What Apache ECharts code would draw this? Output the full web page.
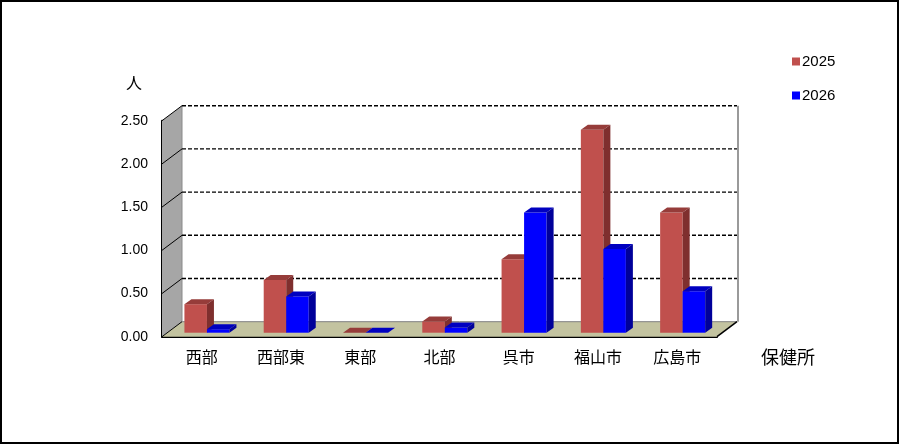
<!DOCTYPE html>
<html>
	<head>
		<meta charset="utf-8">
		<title>chart</title>
		<script src="https://cdn.jsdelivr.net/npm/echarts@6/dist/echarts.min.js"></script>
		<style>
			html,body{margin:0;padding:0;background:#fff;}
		</style>
	</head>
	<body>
		<div id="x" style="width: 900px; height: 445px;"></div>
	</body>

	<script type="text/javascript">
		// 保健所別 人数
		var categories=['西部','西部東','東部','北部','呉市','福山市','広島市'];
		var v2025=[0.33,0.61,0,0.13,0.85,2.35,1.39];
		var v2026=[0.04,0.42,0,0.06,1.39,0.97,0.48];
		var yTicks=[0,0.5,1,1.5,2,2.5];

		// depth of the back wall / of a bar, in px
		var WALL_DX=20, WALL_DY=-15;
		var BAR_DX=7, BAR_DY=-5;
		var SHIFT_X=5.3, SHIFT_Y=-4;

		function frameItem(params,api){
			var cs=params.coordSys;
			var L=cs.x, R=cs.x+cs.width, T=cs.y, B=cs.y+cs.height;
			var dx=WALL_DX, dy=WALL_DY;
			var kids=[];
			// back wall
			kids.push({type:'polygon',shape:{points:[[L+dx,T+dy],[R+dx,T+dy],[R+dx,B+dy],[L+dx,B+dy]]},style:{fill:'#fff'}});
			// left wall
			kids.push({type:'polygon',shape:{points:[[L,T],[L+dx,T+dy],[L+dx,B+dy],[L,B]]},style:{fill:'#a6a6a6'}});
			// floor
			kids.push({type:'polygon',shape:{points:[[L,B],[R,B],[R+dx,B+dy],[L+dx,B+dy]]},style:{fill:'#c3c3a0'}});
			kids.push({type:'line',shape:{x1:L+dx,y1:B+dy,x2:R+dx,y2:B+dy},style:{stroke:'#808080',lineWidth:1}});
			kids.push({type:'line',shape:{x1:R,y1:B,x2:R+dx,y2:B+dy},style:{stroke:'#000',lineWidth:1.5}});
			// right edge of back wall
			kids.push({type:'line',shape:{x1:R+dx+1,y1:T+dy,x2:R+dx+1,y2:B+dy},style:{stroke:'#9a9a9a',lineWidth:2}});
			kids.push({type:'line',shape:{x1:L+dx,y1:T+dy,x2:L+dx,y2:B+dy},style:{stroke:'#8a8a8a',lineWidth:1}});
			for(var i=0;i<yTicks.length;i++){
				var y=api.coord([0,yTicks[i]])[1];
				kids.push({type:'line',shape:{x1:L,y1:y,x2:L+dx,y2:y+dy},style:{stroke:'#000',lineWidth:1}});
				if(yTicks[i]>0){
					kids.push({type:'line',shape:{x1:L+dx,y1:y+dy,x2:R+dx,y2:y+dy},style:{stroke:'#000',lineWidth:1.4,lineDash:[4,2]}});
				}
			}
			return {type:'group',children:kids};
		}

		function barItem(pos,colors){
			return function(params,api){
				var base=api.coord([api.value(0),0]);
				var top=api.coord([api.value(0),api.value(1)]);
				var bw=api.size([1,0])[0];
				var w=bw*0.284;
				var x0=base[0]+SHIFT_X+pos*w;
				var y0=base[1]+SHIFT_Y, y1=top[1]+SHIFT_Y;
				return {type:'group',children:[
					{type:'rect',shape:{x:x0,y:y1,width:w,height:y0-y1},style:{fill:colors[0]}},
					{type:'polygon',shape:{points:[[x0,y1],[x0+w,y1],[x0+w+BAR_DX,y1+BAR_DY],[x0+BAR_DX,y1+BAR_DY]]},style:{fill:colors[1]}},
					{type:'polygon',shape:{points:[[x0+w,y1],[x0+w+BAR_DX,y1+BAR_DY],[x0+w+BAR_DX,y0+BAR_DY],[x0+w,y0]]},style:{fill:colors[2]}}
				]};
			};
		}

		function toData(arr){
			var out=[];
			for(var i=0;i<arr.length;i++){out.push([i,arr[i]]);}
			return out;
		}

		option = {
			backgroundColor:'#fff',
			animation:false,
			grid:{left:162,right:183,top:120.7,bottom:108.3},
			legend:{
				data:['2025','2026'],
				orient:'vertical',
				left:792,top:54,padding:0,
				icon:'rect',itemWidth:8,itemHeight:8,itemGap:19,
				textStyle:{fontSize:15,color:'#000',fontFamily:'Liberation Sans',padding:[0,0,0,-3]}
			},
			xAxis:{
				type:'category',
				data:categories,
				axisLine:{lineStyle:{color:'#000',width:2}},
				axisTick:{show:true,inside:true,length:5,lineStyle:{color:'#000'}},
				axisLabel:{color:'#000',fontSize:16,margin:12,fontFamily:'Noto Sans CJK JP'},
				splitLine:{show:false}
			},
			yAxis:{
				type:'value',
				min:0,max:2.5,interval:0.5,
				axisLine:{show:true,lineStyle:{color:'#000',width:2}},
				axisTick:{show:false},
				axisLabel:{color:'#000',fontSize:14,margin:14,fontFamily:'Liberation Sans',
					formatter:function(v){return v.toFixed(2);}},
				splitLine:{show:false}
			},
			graphic:[
				{type:'rect',shape:{x:1,y:1,width:897,height:442},style:{fill:'none',stroke:'#000',lineWidth:2},z:100},
				{type:'text',x:126,y:75,style:{text:'人',fontSize:16,fill:'#000',fontFamily:'Noto Sans CJK JP'}},
				{type:'text',x:761,y:348,style:{text:'保健所',fontSize:18,fill:'#000',fontFamily:'Noto Sans CJK JP'}}
			],
			series:[
				{type:'custom',name:'frame',renderItem:frameItem,data:[[0,0]],silent:true,z:1},
				{type:'custom',name:'2025',renderItem:barItem(-1,['#c0504d','#963c3a','#7f2f2e']),
					itemStyle:{color:'#c0504d'},encode:{x:0,y:1},data:toData(v2025),z:2},
				{type:'custom',name:'2026',renderItem:barItem(0,['#0000ff','#0000c0','#00009a']),
					itemStyle:{color:'#0000ff'},encode:{x:0,y:1},data:toData(v2026),z:2}
			]
		};

		var mychart=echarts.init(document.getElementById("x"));
		mychart.setOption(option);
	</script>
</html>
